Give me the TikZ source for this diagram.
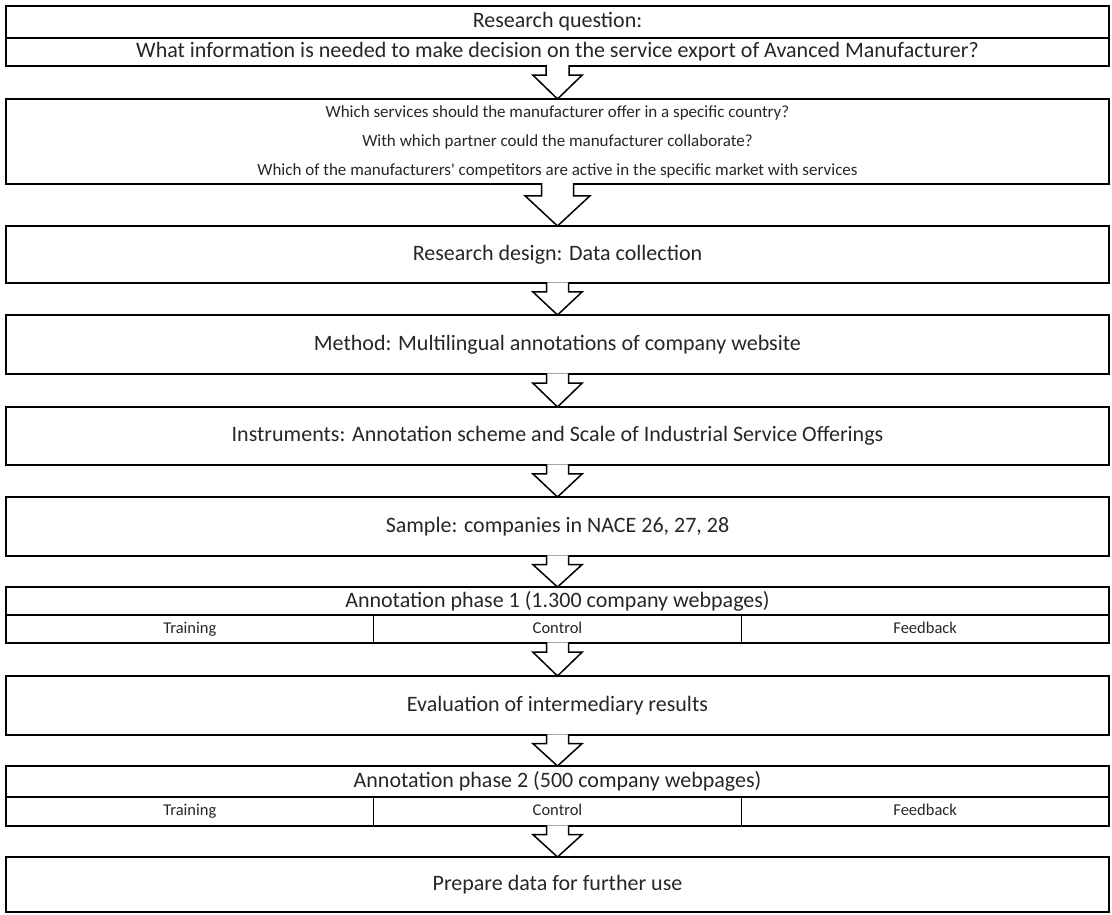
\documentclass[tikz,border=0pt]{standalone}
\usepackage{fontspec}
\setmainfont{Carlito}
\usetikzlibrary{calc}

\tikzset{
  box/.style={draw, line width=1.5pt, outer sep=0pt, inner sep=0pt, minimum width=1103pt,
    text=black!85, font=\fontsize{22}{24}\selectfont},
  cell/.style={draw, line width=1.5pt, outer sep=0pt, inner sep=0pt, minimum width=367.67pt,
    text height=11pt, text depth=3pt, text=black!85, font=\fontsize{16.5}{20}\selectfont},
  arrowshape/.style={draw, fill=white, line width=1.5pt, line join=miter}
}

% block arrow from the bottom of one box to the top of the next
\newcommand{\flowarrow}[4]{%
  \path[arrowshape] let \p1=(#1.south), \p2=(#2.north), \p3=($(#1.south)!0.28!(#2.north)$) in
    (\x1-#3pt,\y1+0.75pt) -- (\x1-#3pt,\y3) -- (\x1-#4pt,\y3) -- (\x2,\y2)
    -- (\x1+#4pt,\y3) -- (\x1+#3pt,\y3) -- (\x1+#3pt,\y1+0.75pt);}

\begin{document}
\begin{tikzpicture}[x=1pt,y=1pt]
        \useasboundingbox (0,0) rectangle (1112,-915);

        \node[box, minimum height=32pt] (question)  at (557.5,-22) {Research question:};
        \node[box, minimum height=28pt] (questionb) at (557.5,-52) {What information is needed to make decision on the service export of Avanced Manufacturer?};
        \node[box, minimum height=85pt, align=center, font=\fontsize{17}{29}\selectfont] (subq) at (557.5,-141.5)
          {Which services should the manufacturer offer in a specific country?\\
           With which partner could the manufacturer collaborate?\\
           Which of the manufacturers\textquotesingle{} competitors are active in the specific market with services};
        \node[box, minimum height=57pt] (design)  at (557.5,-254.5) {Research design: Data collection};
        \node[box, minimum height=59pt] (method)  at (557.5,-344.5) {Method: Multilingual annotations of company website};
        \node[box, minimum height=58pt] (instr)   at (557.5,-436)   {Instruments: Annotation scheme and Scale of Industrial Service Offerings};
        \node[box, minimum height=59pt] (sample)  at (557.5,-526.5) {Sample: companies in NACE 26, 27, 28};

        \node[box, minimum height=28pt] (phaseone) at (557.5,-601) {\raisebox{-3pt}{Annotation phase 1 (1.300 company webpages)}};
        \node[cell, minimum height=28pt] (trainone) at (189.83,-629) {Training};
        \node[cell, minimum height=28pt] (ctrlone)  at (557.5,-629)  {Control};
        \node[cell, minimum height=28pt] (feedone)  at (925.17,-629) {Feedback};

        \node[box, minimum height=59pt] (eval) at (557.5,-705.5) {Evaluation of intermediary results};

        \node[box, minimum height=31pt] (phasetwo) at (557.5,-781.5) {\raisebox{-3pt}{Annotation phase 2 (500 company webpages)}};
        \node[cell, minimum height=29pt] (traintwo) at (189.83,-811.5) {Training};
        \node[cell, minimum height=29pt] (ctrltwo)  at (557.5,-811.5)  {Control};
        \node[cell, minimum height=29pt] (feedtwo)  at (925.17,-811.5) {Feedback};

        \node[box, minimum height=55pt] (prepare) at (557.5,-884.5) {Prepare data for further use};

        \flowarrow{questionb}{subq}{11.5}{24.5}
        \flowarrow{subq}{design}{16}{32.5}
        \foreach \a/\b in {design/method, method/instr, instr/sample, sample/phaseone,
                           ctrlone/eval, eval/phasetwo, ctrltwo/prepare}
          \flowarrow{\a}{\b}{11}{24.5};
      \end{tikzpicture}
\end{document}
